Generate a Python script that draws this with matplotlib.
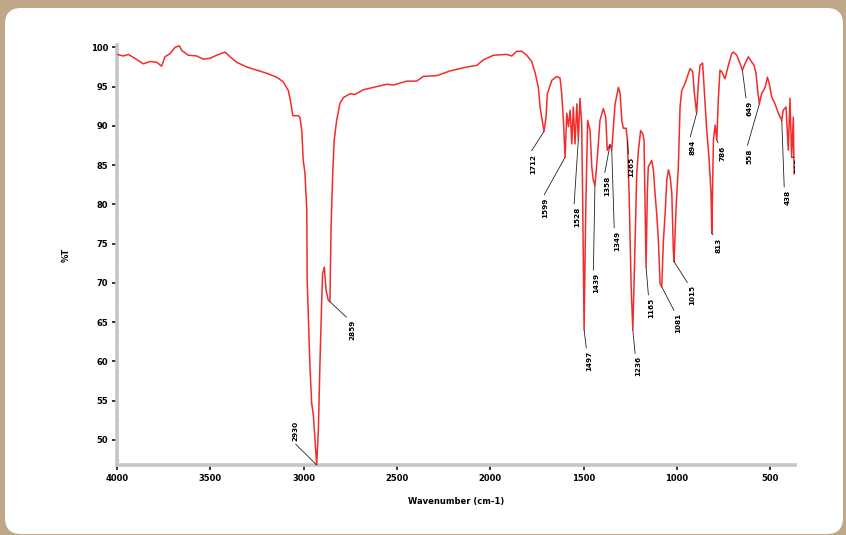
import numpy as np
import matplotlib
matplotlib.use("Agg")
import matplotlib.pyplot as plt
from matplotlib.patches import FancyBboxPatch
from matplotlib.transforms import IdentityTransform
from matplotlib.ticker import MultipleLocator

# ── spectrum (wavenumber cm-1, %T) ───────────────────────────────────
wavenumber = [
    4000, 3966, 3939, 3904, 3859, 3823, 3787, 3761, 3743, 3716, 3689, 3666,
    3653, 3618, 3573, 3538, 3502, 3466, 3421, 3394, 3359, 3305, 3251, 3198,
    3144, 3109, 3082, 3069, 3058, 3028, 3019, 3010, 3002, 2993, 2983, 2981,
    2966, 2957, 2948, 2939, 2930, 2921, 2912, 2903, 2898, 2889, 2880, 2868,
    2859, 2853, 2844, 2836, 2823, 2805, 2787, 2751, 2725, 2680, 2626, 2555,
    2519, 2447, 2394, 2359, 2287, 2215, 2126, 2072, 2037, 1983, 1912, 1885,
    1858, 1831, 1805, 1778, 1760, 1742, 1733, 1724, 1712, 1701, 1694, 1670,
    1644, 1626, 1617, 1608, 1599, 1590, 1581, 1572, 1563, 1555, 1546, 1536,
    1528, 1519, 1510, 1505, 1497, 1488, 1478, 1465, 1456, 1448, 1439, 1426,
    1412, 1394, 1381, 1373, 1358, 1349, 1331, 1313, 1304, 1295, 1287, 1272,
    1265, 1256, 1245, 1236, 1228, 1215, 1206, 1194, 1183, 1176, 1170, 1165,
    1158, 1153, 1135, 1126, 1117, 1108, 1099, 1090, 1081, 1072, 1063, 1054,
    1045, 1036, 1027, 1019, 1015, 1004, 992, 983, 974, 956, 938, 929,
    915, 906, 894, 885, 876, 862, 854, 840, 828, 817, 813, 804,
    795, 786, 778, 769, 760, 742, 724, 706, 697, 679, 661, 649,
    635, 617, 604, 586, 576, 567, 558, 546, 527, 515, 505, 492,
    474, 456, 438, 430, 415, 403, 394, 385, 376, 372,
]
transmittance = [
    99.1, 98.9, 99.1, 98.6, 97.9, 98.2, 98.1, 97.6, 98.8, 99.2, 100.0, 100.2,
    99.6, 99.0, 98.9, 98.5, 98.6, 99.0, 99.4, 98.8, 98.1, 97.5, 97.1, 96.7,
    96.2, 95.6, 94.5, 93.0, 91.3, 91.3, 91.0, 89.4, 85.6, 84.0, 79.3, 70.4,
    59.3, 54.7, 53.2, 50.0, 46.8, 51.3, 60.2, 67.8, 71.2, 72.0, 69.1, 67.8,
    67.6, 77.1, 84.0, 88.2, 90.7, 92.9, 93.6, 94.1, 94.0, 94.6, 94.9, 95.3,
    95.2, 95.7, 95.7, 96.3, 96.4, 97.0, 97.5, 97.7, 98.4, 99.0, 99.1, 98.9,
    99.5, 99.5, 99.0, 98.2, 96.8, 94.9, 92.4, 91.1, 89.3, 91.1, 94.1, 95.8,
    96.3, 96.1, 94.1, 90.7, 86.0, 91.6, 89.9, 92.0, 87.7, 92.4, 87.7, 92.8,
    88.2, 93.5, 90.3, 81.0, 64.0, 79.7, 90.7, 89.4, 84.8, 83.1, 82.4, 86.0,
    90.7, 92.2, 91.1, 86.9, 87.6, 86.9, 92.8, 94.9, 94.1, 90.7, 89.7, 89.7,
    88.2, 81.4, 69.5, 64.0, 71.2, 83.9, 86.9, 89.4, 89.0, 88.2, 79.7, 72.0,
    81.8, 84.8, 85.6, 84.4, 81.4, 78.8, 75.4, 69.9, 69.5, 75.4, 78.8, 83.1,
    84.4, 83.5, 81.4, 74.2, 72.7, 79.7, 84.8, 92.4, 94.5, 95.4, 96.7, 97.3,
    96.9, 94.1, 91.6, 95.4, 97.7, 98.0, 94.9, 89.4, 86.0, 81.4, 76.3, 88.2,
    90.1, 88.2, 93.3, 97.1, 96.9, 96.0, 97.7, 99.2, 99.4, 99.0, 97.9, 97.1,
    97.9, 98.8, 98.3, 97.7, 96.7, 94.5, 92.8, 94.1, 94.9, 96.2, 95.4, 93.7,
    92.8, 91.6, 90.7, 92.0, 92.4, 86.9, 93.5, 86.0, 91.1, 83.9,
]

# labelled bands
peak_wn = [2930, 2859, 1712, 1599, 1528, 1497, 1439, 1358, 1349, 1265, 1236,
           1165, 1081, 1015, 894, 813, 786, 649, 558, 438, 385]
# label offsets (points)
label_offset = [(-15, 17), (16, -13), (-8, -16), (-14, -29), (-1, -48),
                (4, -15), (1, -63), (-2, -22), (4, -58), (3, -12), (4, -19),
                (4, -22), (12, -19), (13, -17), (-3, -19), (5, -3), (4, -4),
                (5, -22), (-7, -32), (4, -50), (4, 0)]

y_ticks = [50, 55, 60, 65, 70, 75, 80, 85, 90, 95, 100]
x_ticks = [4000, 3500, 3000, 2500, 2000, 1500, 1000, 500]

W, H = 846, 535
fig = plt.figure(figsize=(W / 100, H / 100), dpi=100)
fig.patch.set_facecolor("#bfa888")
fig.patches.append(FancyBboxPatch((5, 1), 838, 526,
                                  boxstyle="round,pad=0,rounding_size=16",
                                  transform=IdentityTransform(),
                                  facecolor="white", edgecolor="none",
                                  zorder=-5))

ax = fig.add_axes([117 / W, 70 / H, (795 - 117) / W, (465 - 45) / H])
ax.set_facecolor("none")
ax.plot(wavenumber, transmittance, color="#f22c2c", lw=1.1, zorder=3)

ax.set_xlim(4000, 367)
ax.set_ylim(46.8, 100.3)
ax.set_xticks(x_ticks)
ax.set_yticks(y_ticks)
ax.xaxis.set_minor_locator(MultipleLocator(100))
ax.yaxis.set_minor_locator(MultipleLocator(1.25))

for s in ("top", "right"):
    ax.spines[s].set_visible(False)
for s in ("left", "bottom"):
    ax.spines[s].set_color("#c6c6c6")
    ax.spines[s].set_linewidth(2.6)

ax.tick_params(which="major", direction="out", length=3.5, width=1.1,
               color="black", labelsize=6, pad=3)
ax.tick_params(which="minor", direction="inout", length=1.8, width=1.0,
               color="black")
for lab in ax.get_xticklabels() + ax.get_yticklabels():
    lab.set_fontweight("bold")

ax.set_xlabel("Wavenumber (cm-1)", fontsize=6, fontweight="bold", labelpad=10)
ax.set_ylabel("%T", fontsize=6, fontweight="bold", labelpad=14)

order = np.argsort(wavenumber)
wn_sorted = np.asarray(wavenumber)[order]
t_sorted = np.asarray(transmittance)[order]
for wn, (dx, dy) in zip(peak_wn, label_offset):
    t = np.interp(wn, wn_sorted, t_sorted)
    va = "bottom" if dy > 0 else "top"
    ax.annotate(f"{wn}", xy=(wn, t), xytext=(dx, dy),
                textcoords="offset points", rotation=90,
                ha="center", va=va, fontsize=5.2, fontweight="bold",
                clip_on=True,
                arrowprops=dict(arrowstyle="-", color="#222222", lw=0.6,
                                shrinkA=0, shrinkB=0,
                                relpos=(0.0, 0.0 if dy > 0 else 1.0)),
                zorder=4)

fig.savefig("out.png", dpi=100, facecolor=fig.get_facecolor())
